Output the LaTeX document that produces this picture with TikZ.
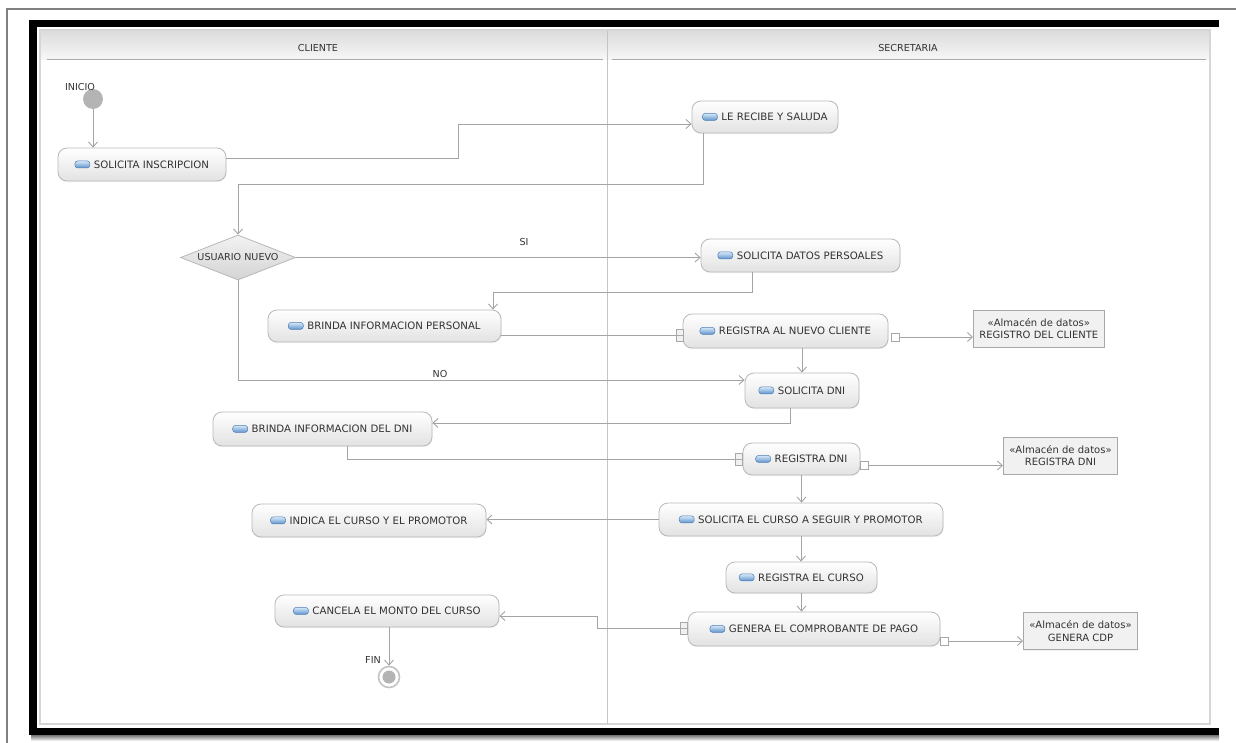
\documentclass[tikz,border=0pt]{standalone}
\usepackage{fontspec}
\setmainfont{DejaVu Sans}
\usetikzlibrary{arrows.meta,shapes.geometric,calc,shadows}

\definecolor{lineGray}{HTML}{A4A4A4}
\definecolor{nodeEdge}{HTML}{B8B8B8}
\definecolor{nodeBot}{HTML}{E2E2E2}
\definecolor{storeEdge}{HTML}{A8A8A8}
\definecolor{storeFill}{HTML}{F1F1F1}
\definecolor{panelEdge}{HTML}{D6D6D6}
\definecolor{laneLine}{HTML}{C4C4C4}
\definecolor{hdrTop}{HTML}{DCDCDC}
\definecolor{hdrLine}{HTML}{ABABAB}
\definecolor{iconTop}{HTML}{D6E8F8}
\definecolor{iconBot}{HTML}{5E93CC}
\definecolor{iconEdge}{HTML}{4D7DB4}
\definecolor{dotGray}{HTML}{B4B4B4}
\definecolor{txtGray}{HTML}{333333}

\newcommand\dgActFont{\fontsize{10.2}{12}\selectfont}
\newcommand\dgStoreFont{\fontsize{10}{12.5}\selectfont}
\newcommand\dgLblFont{\fontsize{9.6}{11}\selectfont}
% small blue action glyph, set just left of the text of an action node
\newcommand\dgIcon[1]{\shade[rounded corners=2.8pt, top color=iconTop, bottom color=iconBot,
  draw=iconEdge, line width=0.5pt] ([yshift=0.3pt]#1.text) rectangle ++(15,-7);}

\tikzset{
  flow/.style={draw=lineGray, line width=0.9pt, -{Straight Barb[length=5pt,width=9pt]}},
  link/.style={draw=lineGray, line width=0.9pt},
  act/.style={rectangle, rounded corners=9pt, draw=nodeEdge, line width=0.8pt,
    top color=white, bottom color=nodeBot, font=\dgActFont, text=txtGray, inner sep=0pt, align=center,
    drop shadow={opacity=0.10, shadow xshift=0.6pt, shadow yshift=-1.2pt}},
  store/.style={rectangle, draw=storeEdge, fill=storeFill, font=\dgStoreFont, text=txtGray,
    align=center, inner xsep=6pt, inner ysep=3pt, minimum height=37pt, line width=0.7pt, anchor=west,
    drop shadow={opacity=0.10, shadow xshift=0.8pt, shadow yshift=-1.2pt}},
  inpin/.style={rectangle, draw=storeEdge, fill=storeFill, line width=0.6pt,
    minimum width=7pt, minimum height=12pt, inner sep=0pt,
    path picture={\draw[storeEdge, line width=0.5pt] (path picture bounding box.west) -- (path picture bounding box.east);}},
  outpin/.style={rectangle, draw=storeEdge, fill=white, line width=0.6pt, minimum size=8pt, inner sep=0pt},
  lbl/.style={font=\dgLblFont, text=txtGray, inner sep=0pt},
}

\begin{document}
\begin{tikzpicture}[x=1pt,y=-1pt]
\useasboundingbox (0,0) rectangle (1236,743);

% outer thin frame
\draw[gray, line width=1.2pt] (7,743) -- (7,9) -- (1236,9);

% heavy black frame with its drop shadow
\shade[top color=black!55, bottom color=white] (31,735) rectangle (1219,741);
\fill[black] (29,20) rectangle (1219,27);
\fill[black] (29,20) rectangle (37,735);
\fill[black] (29,728) rectangle (1219,735);

% swimlane panel
\shade[top color=hdrTop, bottom color=white!97!black] (41,31) rectangle (1209,60);
\draw[panelEdge, line width=1.5pt] (40,30) rectangle (1210,724);
\draw[hdrLine, line width=1pt] (47,60) -- (603,60);
\draw[hdrLine, line width=1pt] (612,60) -- (1206,60);
\draw[laneLine, line width=1pt] (607,31) -- (607,724);
\node[lbl] (laneC) at (318,48) {CLIENTE};
\node[lbl] (laneS) at (908,48) {SECRETARIA};

% start and end nodes
\node[circle, fill=dotGray, minimum size=20pt, inner sep=0pt] (ini) at (93,99) {};
\node[lbl, anchor=south] (iniL) at (80,91) {INICIO};
\node[circle, draw=dotGray!80, line width=1.6pt, fill=white, minimum size=21pt, inner sep=0pt] (fin) at (389,677) {};
\fill[dotGray] (fin.center) circle (6.5pt);
\node[lbl] (finL) at (373,660) {FIN};

% actions, client lane
\node[act, minimum width=168pt, minimum height=33pt] (a1) at (142,164.5) {\hspace{19pt}SOLICITA INSCRIPCION};
\node[diamond, draw=nodeEdge, top color=black!5, bottom color=black!17, line width=0.8pt,
      minimum width=115pt, minimum height=45pt, inner sep=0pt,
      label={[lbl]center:USUARIO NUEVO}] (dec) at (238,257.5) {};
\node[act, minimum width=233pt, minimum height=32pt] (a5) at (384.5,326) {\hspace{19pt}BRINDA INFORMACION PERSONAL};
\node[act, minimum width=219pt, minimum height=34pt] (a8) at (322.5,429) {\hspace{19pt}BRINDA INFORMACION DEL DNI};
\node[act, minimum width=234pt, minimum height=33pt] (a11) at (369,520.5) {\hspace{19pt}INDICA EL CURSO Y EL PROMOTOR};
\node[act, minimum width=224pt, minimum height=32pt] (a14) at (387,611) {\hspace{19pt}CANCELA EL MONTO DEL CURSO};

% actions, secretary lane
\node[act, minimum width=146pt, minimum height=32pt] (a2) at (765,117) {\hspace{19pt}LE RECIBE Y SALUDA};
\node[act, minimum width=199pt, minimum height=33pt] (a4) at (800.5,255.5) {\hspace{19pt}SOLICITA DATOS PERSOALES};
\node[act, minimum width=205pt, minimum height=34pt] (a6) at (785.5,331) {\hspace{19pt}REGISTRA AL NUEVO CLIENTE};
\node[act, minimum width=114pt, minimum height=35pt] (a7) at (802,390.5) {\hspace{19pt}SOLICITA DNI};
\node[act, minimum width=117pt, minimum height=32pt] (a9) at (801.5,459) {\hspace{19pt}REGISTRA DNI};
\node[act, minimum width=284pt, minimum height=33pt] (a10) at (801,519.5) {\hspace{19pt}SOLICITA EL CURSO A SEGUIR Y PROMOTOR};
\node[act, minimum width=151pt, minimum height=31pt] (a12) at (801.5,577.5) {\hspace{19pt}REGISTRA EL CURSO};
\node[act, minimum width=252pt, minimum height=34pt] (a13) at (814,629) {\hspace{19pt}GENERA EL COMPROBANTE DE PAGO};

\foreach \n in {a1,a2,a4,a5,a6,a7,a8,a9,a10,a11,a12,a13,a14} {\dgIcon{\n}}

% pins
\node[inpin] (p6in) at (680,335.5) {};
\node[outpin] (p6out) at (895,337) {};
\node[inpin] (p9in) at (738.5,459.5) {};
\node[outpin] (p9out) at (864.5,465.5) {};
\node[inpin] (p13in) at (683.5,628) {};
\node[outpin] (p13out) at (944,641) {};

% data stores
\node[store] (ds1) at (973,328.5) {«Almacén de datos»\\REGISTRO DEL CLIENTE};
\node[store] (ds2) at (1003,455.5) {«Almacén de datos»\\REGISTRA DNI};
\node[store] (ds3) at (1023,631) {«Almacén de datos»\\GENERA CDP};

% guard labels
\node[lbl] (siL) at (524,242) {SI};
\node[lbl] (noL) at (440,374) {NO};

% control flow
\draw[flow] (ini.south) -- (ini.south |- a1.north);
\draw[flow] ([yshift=6.5pt]a1.east) -| (458,124) -- ([yshift=-7pt]a2.west);
\draw[flow] ([xshift=-62pt]a2.south) -- (703,184) -| (dec.north);
\draw[flow] (dec.east) -- (dec.east -| a4.west);
\draw[flow] ([xshift=-48.5pt]a4.south) -- (752,292) -| ([xshift=108.5pt]a5.north);
\draw[link] (p6in.west -| a5.east) -- (p6in.west);
\draw[flow] (p6out.east) -- (p6out.east -| ds1.west);
\draw[flow] (a6.south -| a7.north) -- (a7.north);
\draw[flow] (dec.south) |- ([yshift=10.5pt]a7.west);
\draw[flow] ([xshift=-12pt]a7.south) |- ([yshift=6pt]a8.east);
\draw[link] ([xshift=24.5pt]a8.south) |- (p9in.west);
\draw[flow] (p9out.east) -- (p9out.east -| ds2.west);
\draw[flow] (a9.south) -- (a9.south |- a10.north);
\draw[flow] (a10.west) -- (a10.west -| a11.east);
\draw[flow] (a10.south) -- (a10.south |- a12.north);
\draw[flow] (a12.south) -- (a12.south |- a13.north);
\draw[flow] (p13in.west) -| (597,616) -- ([yshift=-5pt]a14.east);
\draw[flow] (p13out.east) -- (p13out.east -| ds3.west);
\draw[flow] (a14.south -| fin.north) -- (fin.north);
\end{tikzpicture}
\end{document}
